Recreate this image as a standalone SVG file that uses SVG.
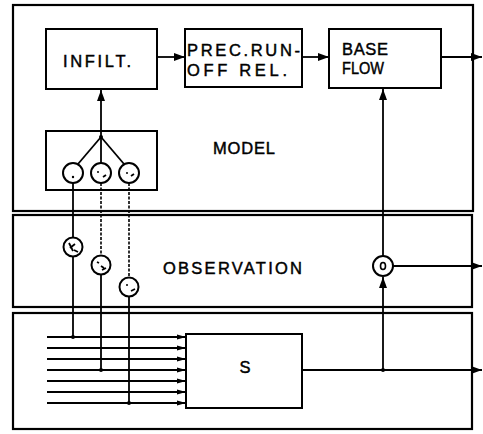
<svg xmlns="http://www.w3.org/2000/svg" width="483" height="434" viewBox="0 0 483 434">
<style>
.panel{fill:none;stroke:#000;stroke-width:2.2}
.box{fill:#fff;stroke:#000;stroke-width:2}
.ln{fill:none;stroke:#000;stroke-width:1.8}
.dot{fill:none;stroke:#000;stroke-width:1.6;stroke-dasharray:3 1.5}
.cir{fill:#fff;stroke:#000;stroke-width:2}
.t{font-family:"Liberation Sans","DejaVu Sans",sans-serif;font-size:16.5px;fill:#000;stroke:#000;stroke-width:0.45}
.jn{fill:#000}
</style>
<defs>
<marker id="ah" markerUnits="userSpaceOnUse" markerWidth="12" markerHeight="10" refX="11" refY="5" orient="auto">
<path d="M0,1 L11,5 L0,9 z" fill="#000"/>
</marker>
<marker id="as" markerUnits="userSpaceOnUse" markerWidth="9" markerHeight="6" refX="9" refY="3" orient="auto">
<path d="M0,0.5 L9,3 L0,5.5 z" fill="#000"/>
</marker>
</defs>
<rect width="483" height="434" fill="#fff"/>

<g id="panel-model"><rect class="panel" x="13" y="5" width="460" height="206"/></g>
<g id="panel-observation"><rect class="panel" x="13" y="215" width="459" height="92"/></g>
<g id="panel-system"><rect class="panel" x="13" y="313" width="459" height="116"/></g>

<g id="connectors">
<line class="ln" x1="157" y1="57" x2="185" y2="57" marker-end="url(#ah)"/>
<line class="ln" x1="302" y1="57" x2="329" y2="57" marker-end="url(#ah)"/>
<line class="ln" x1="441" y1="57" x2="482" y2="57" marker-end="url(#ah)"/>
<line class="ln" x1="101" y1="137" x2="101" y2="90" marker-end="url(#ah)"/>
<line class="ln" x1="101" y1="137" x2="78" y2="164"/>
<line class="ln" x1="101" y1="137" x2="101" y2="163"/>
<line class="ln" x1="101" y1="137" x2="124" y2="164"/>
<line class="ln" x1="73" y1="183" x2="73" y2="238"/>
<line class="dot" x1="101" y1="183" x2="101" y2="256"/>
<line class="dot" x1="129" y1="183" x2="129" y2="277"/>
<line class="ln" x1="73" y1="256" x2="73" y2="337"/>
<line class="ln" x1="101" y1="274" x2="101" y2="370"/>
<line class="ln" x1="129" y1="297" x2="129" y2="403"/>
<line class="ln" x1="383" y1="256" x2="383" y2="89" marker-end="url(#ah)"/>
<line class="ln" x1="383" y1="370" x2="383" y2="277" marker-end="url(#ah)"/>
<line class="ln" x1="393" y1="266" x2="482" y2="266" marker-end="url(#ah)"/>
<line class="ln" x1="302" y1="370" x2="482" y2="370" marker-end="url(#ah)"/>
<line class="ln" x1="47" y1="337" x2="186" y2="337" marker-end="url(#as)"/>
<line class="ln" x1="47" y1="348" x2="186" y2="348" marker-end="url(#as)"/>
<line class="ln" x1="47" y1="359" x2="186" y2="359" marker-end="url(#as)"/>
<line class="ln" x1="47" y1="370" x2="186" y2="370" marker-end="url(#as)"/>
<line class="ln" x1="47" y1="381" x2="186" y2="381" marker-end="url(#as)"/>
<line class="ln" x1="47" y1="392" x2="186" y2="392" marker-end="url(#as)"/>
<line class="ln" x1="47" y1="403" x2="186" y2="403" marker-end="url(#as)"/>
<circle class="jn" cx="101" cy="137" r="2"/>
<circle class="jn" cx="73" cy="337" r="2"/>
<circle class="jn" cx="101" cy="370" r="2"/>
<circle class="jn" cx="129" cy="403" r="2"/>
<circle class="jn" cx="383" cy="370" r="2"/>
</g>

<g id="infilt"><rect class="box" x="46" y="29" width="111" height="60"/><text class="t" x="63" y="67" textLength="68" lengthAdjust="spacing">INFILT.</text></g>
<g id="prec-runoff"><rect class="box" x="185" y="29" width="117" height="58"/><text class="t" x="187" y="56" textLength="113" lengthAdjust="spacing">PREC.RUN-</text><text class="t" x="187" y="76" textLength="100" lengthAdjust="spacing">OFF REL.</text></g>
<g id="base-flow"><rect class="box" x="329" y="29" width="112" height="59"/><text class="t" x="342" y="55" textLength="46" lengthAdjust="spacing">BASE</text><text class="t" x="342" y="74" textLength="42" lengthAdjust="spacingAndGlyphs">FLOW</text></g>
<g id="model-gauges"><rect x="46" y="131" width="111" height="59" fill="none" stroke="#000" stroke-width="2"/>
<circle class="cir" cx="73" cy="173" r="10"/><circle class="jn" cx="73" cy="177" r="1.2"/>
<circle class="cir" cx="101" cy="173" r="10"/><circle class="jn" cx="98" cy="172" r="1"/><path class="ln" d="M103,177 l3,-2" stroke-width="1.4"/>
<circle class="cir" cx="129" cy="173" r="10"/><circle class="jn" cx="127" cy="173" r="1"/><path class="ln" d="M131,176 l3,-2" stroke-width="1.4"/>
</g>
<g id="label-model"><text class="t" x="213" y="154" textLength="62" lengthAdjust="spacing">MODEL</text></g>
<g id="obs-gauges">
<circle class="cir" cx="73" cy="247" r="9.5"/><path class="ln" d="M69,243 l4,8 M70,248 l5,-4 M74,250 l4,2" stroke-width="1.6"/>
<circle class="cir" cx="101" cy="265" r="9.5"/><path class="ln" d="M97,262 l2,1 M101,266 l3,2 M102,270 l4,-2" stroke-width="1.5"/>
<circle class="cir" cx="129" cy="287" r="9.5"/><circle class="jn" cx="127" cy="285" r="1"/><path class="ln" d="M131,291 l4,-2" stroke-width="1.5"/>
</g>
<g id="label-observation"><text class="t" x="163" y="274" textLength="139" lengthAdjust="spacing">OBSERVATION</text></g>
<g id="obs-discharge"><circle class="cir" cx="383" cy="266" r="10"/><ellipse cx="383" cy="266" rx="2.5" ry="3.5" fill="none" stroke="#000" stroke-width="1.6"/></g>
<g id="system-s"><rect class="box" x="186" y="334" width="116" height="74"/><text class="t" x="245" y="373" text-anchor="middle">S</text></g>
</svg>
